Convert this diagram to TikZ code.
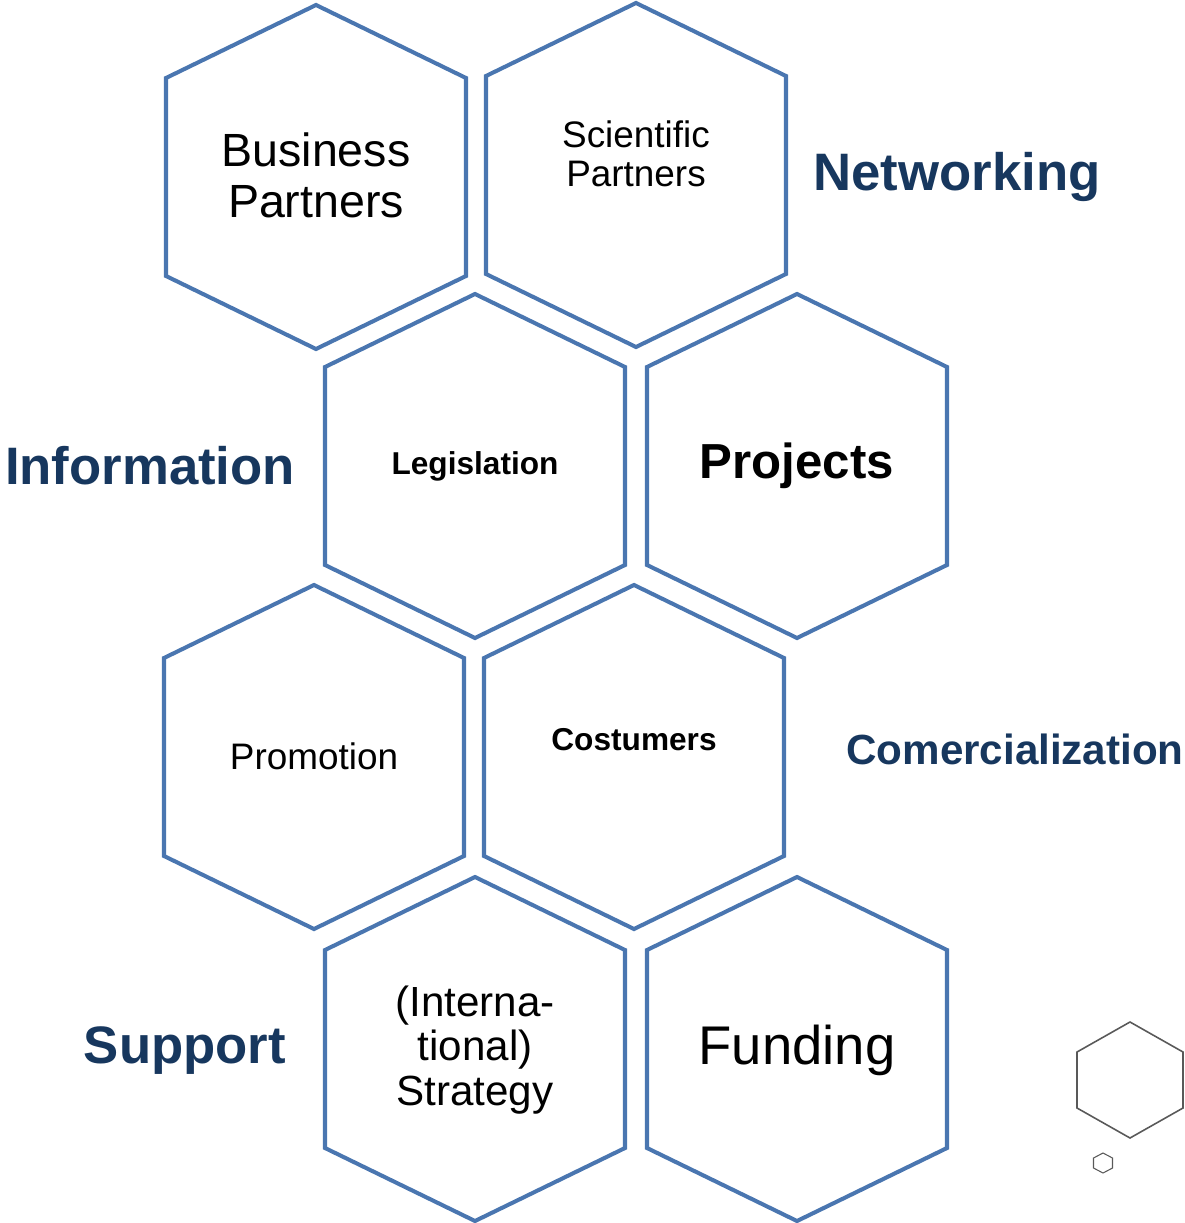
\documentclass[tikz,border=0pt]{standalone}
\usepackage{fontspec}
\setmainfont{Liberation Sans}
\definecolor{hexblue}{HTML}{4A76B0}
\definecolor{labelnavy}{HTML}{17375E}
\definecolor{markgray}{HTML}{595959}

% style, name, centre, half width, tip rise, half side
\newcommand{\hexshape}[6]{%
  \coordinate (#2) at (#3);
  \draw[#1] (#2) ++(0,-#6-#5) -- ++(#4,#5) -- ++(0,2*#6) -- ++(-#4,#5) -- ++(-#4,-#5) -- ++(0,-2*#6) -- cycle;}

\begin{document}
\begin{tikzpicture}[x=0.02cm,y=-0.02cm]
\tikzstyle{hexline}=[draw=hexblue,line width=2.3pt]
\tikzstyle{hexmark}=[draw=markgray,line width=0.9pt]
\tikzstyle{sidelabel}=[text=labelnavy,font=\bfseries\fontsize{30}{32}\selectfont]
\tikzstyle{celltext}=[align=center,inner sep=0pt]

\useasboundingbox (0,0) rectangle (1185,1223);

% honeycomb
\hexshape{hexline}{business}{316,177}{150}{73}{99}
\hexshape{hexline}{scientific}{636,175}{150}{73}{99}
\hexshape{hexline}{legislation}{475,466}{150}{73}{99}
\hexshape{hexline}{projects}{797,466}{150}{73}{99}
\hexshape{hexline}{promotion}{314,757}{150}{73}{99}
\hexshape{hexline}{costumers}{634,757}{150}{73}{99}
\hexshape{hexline}{strategy}{475,1049}{150}{73}{99}
\hexshape{hexline}{funding}{797,1049}{150}{73}{99}

% cell texts
\node[celltext,font=\fontsize{26.5}{29}\selectfont] (businesstxt) at (316,175) {Business\\Partners};
\node[celltext,font=\fontsize{21}{22}\selectfont] (scientifictxt) at (636,154) {Scientific\\Partners};
\node[celltext,font=\bfseries\fontsize{18}{20}\selectfont] (legislationtxt) at (475,466) {Legislation};
\node[celltext,font=\bfseries\fontsize{28}{30}\selectfont] (projectstxt) at (797,466) {Projects};
\node[celltext,font=\fontsize{21}{23}\selectfont] (promotiontxt) at (314,756) {Promotion};
\node[celltext,font=\bfseries\fontsize{18}{20}\selectfont] (costumerstxt) at (634,740) {Costumers};
\node[celltext,font=\fontsize{24}{25.3}\selectfont] (strategytxt) at (475,1050) {(Interna-\\tional)\\Strategy};
\node[celltext,font=\fontsize{31}{33}\selectfont] (fundingtxt) at (797,1050) {Funding};

% side labels
\node[sidelabel] (networking) at (957,177) {Networking};
\node[sidelabel] (information) at (150,466) {Information};
\node[sidelabel,font=\bfseries\fontsize{24}{26}\selectfont] (comercial) at (1015,749) {Comercialization};
\node[sidelabel] (support) at (185,1051) {Support};

% small marks
\hexshape{hexmark}{bigmark}{1130,1080}{53}{30}{28}
\hexshape{hexmark,line width=0.6pt}{smallmark}{1103,1163}{9.5}{5}{5}

\end{tikzpicture}
\end{document}
